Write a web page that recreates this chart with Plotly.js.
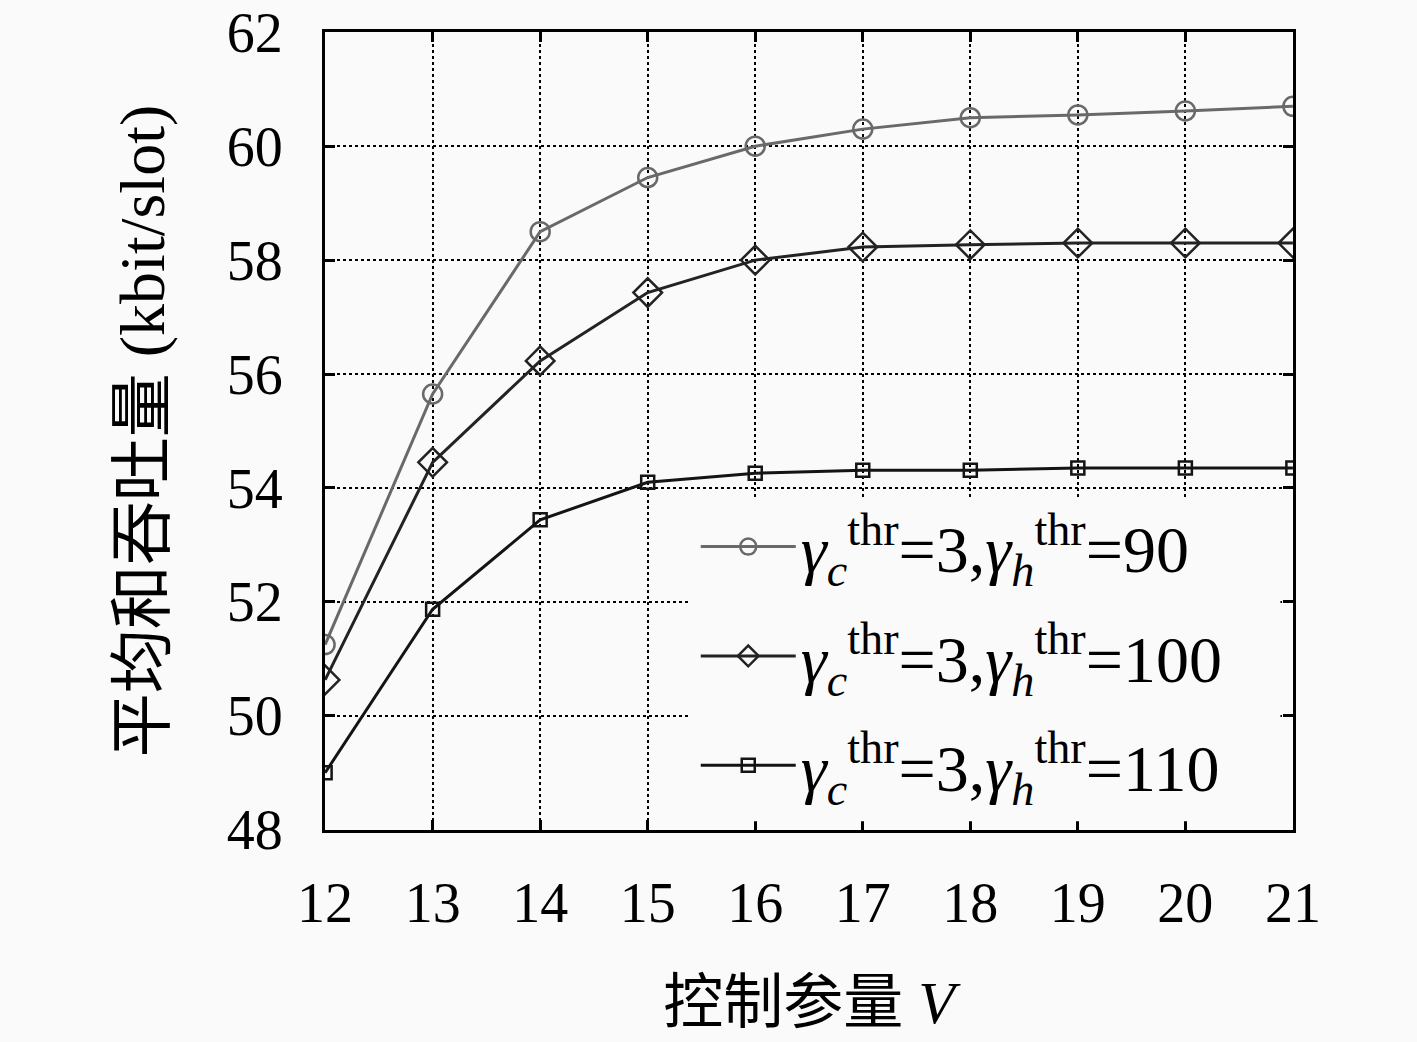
<!DOCTYPE html>
<html>
<head>
<meta charset="utf-8">
<script src="https://cdn.plot.ly/plotly-3.0.1.min.js"></script>
<style>
  html, body { margin: 0; padding: 0; background: #fafafa; }
  #chart { width: 1417px; height: 1042px; }
</style>
</head>
<body>
<div id="chart"></div>
<script>
const vValues = [12, 13, 14, 15, 16, 17, 18, 19, 20, 21];
const thr90 = [51.25, 55.65, 58.5, 59.45, 60.0, 60.3, 60.5, 60.55, 60.62, 60.7];
const thr100 = [50.63, 54.45, 56.23, 57.43, 58.0, 58.23, 58.27, 58.3, 58.3, 58.3];
const thr110 = [49.0, 51.87, 53.44, 54.1, 54.26, 54.31, 54.31, 54.35, 54.35, 54.35];
const seriesNames = [
    '<i>γ</i><sub><i>c</i></sub><sup>thr</sup>=3,<i>γ</i><sub><i>h</i></sub><sup>thr</sup>=90',
    '<i>γ</i><sub><i>c</i></sub><sup>thr</sup>=3,<i>γ</i><sub><i>h</i></sub><sup>thr</sup>=100',
    '<i>γ</i><sub><i>c</i></sub><sup>thr</sup>=3,<i>γ</i><sub><i>h</i></sub><sup>thr</sup>=110'
];
const yTicks = [48, 50, 52, 54, 56, 58, 60, 62];

const serif = '"Liberation Serif", "Noto Sans CJK SC", serif';
const bg = '#fafafa';

const makeTrace = (y, name, color, symbol, size, legendId) => ({
    x: vValues,
    y: y,
    name: name,
    legend: legendId,
    type: 'scatter',
    mode: 'lines+markers',
    line: { color: color, width: 3 },
    marker: { symbol: symbol, size: size, color: color, line: { color: color, width: 2.5 } }
});

const data = [
    makeTrace(thr90, seriesNames[0], 'rgb(105,105,105)', 'circle-open', 19, 'legend'),
    makeTrace(thr100, seriesNames[1], 'rgb(35,35,35)', 'diamond-open', 22, 'legend2'),
    makeTrace(thr110, seriesNames[2], 'rgb(20,20,20)', 'square-open', 13, 'legend3')
];

const axisCommon = {
    showline: true,
    linecolor: 'black',
    linewidth: 3,
    mirror: 'ticks',
    ticks: 'inside',
    ticklen: 10,
    tickwidth: 3,
    tickcolor: 'black',
    showgrid: true,
    gridcolor: 'black',
    gridwidth: 2,
    griddash: 'dot',
    zeroline: false,
    tickfont: { family: serif, size: 56, color: 'black' }
};

const legendStyle = (yPos) => ({
    x: 0.383,
    y: yPos,
    xanchor: 'left',
    yanchor: 'middle',
    bgcolor: 'rgba(0,0,0,0)',
    borderwidth: 0,
    itemwidth: 95,
    font: { family: serif, size: 66, color: 'black' }
});

const layout = {
    width: 1417,
    height: 1042,
    paper_bgcolor: bg,
    plot_bgcolor: bg,
    margin: { l: 325, r: 124, t: 32, b: 212 },
    showlegend: true,
    xaxis: Object.assign({}, axisCommon, {
        range: [11.999, 21.001],
        tickvals: vValues,
        ticklabelstandoff: 22,
        title: { text: '控制参量 <i>V</i>', font: { family: serif, size: 60, color: 'black' }, standoff: 48 }
    }),
    yaxis: Object.assign({}, axisCommon, {
        range: [47.995, 62.005],
        tickvals: yTicks,
        ticktext: yTicks.map(String),
        ticklabeloverflow: 'allow',
        ticklabelstandoff: 28,
        title: { text: '平均和吞吐量 (kbit/slot)', font: { family: serif, size: 64, color: 'black' }, standoff: 42 }
    }),
    // blank panel behind the legend entries, hiding the grid there
    shapes: [{
        type: 'rect',
        xref: 'paper', yref: 'paper',
        x0: 0.377, x1: 0.987, y0: 0.011, y1: 0.415,
        fillcolor: bg,
        line: { width: 0 },
        layer: 'above'
    }],
    legend: legendStyle(0.355),
    legend2: legendStyle(0.218),
    legend3: legendStyle(0.081)
};

Plotly.newPlot('chart', data, layout, { displayModeBar: false, staticPlot: true });
</script>
</body>
</html>
